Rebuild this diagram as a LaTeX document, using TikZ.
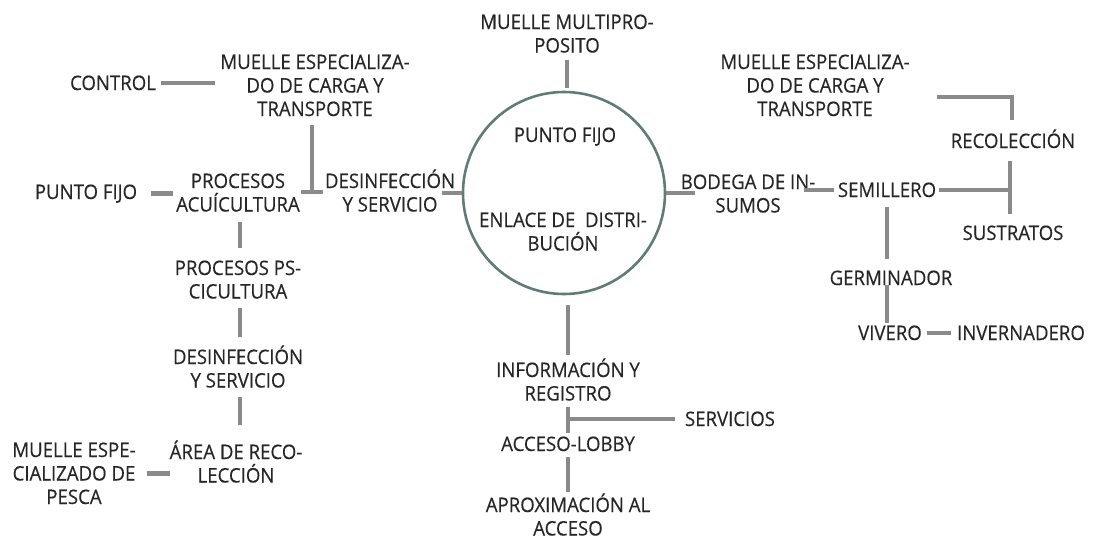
\documentclass[tikz,border=0pt]{standalone}
\usepackage{fontspec}
\setmainfont{Open Sans}[FakeStretch=0.93,FakeBold=0.35]
\usetikzlibrary{calc}
\definecolor{txt}{HTML}{262626}
\definecolor{cn}{HTML}{8A8A8A}
\definecolor{ringc}{HTML}{5E7D77}
\begin{document}
\begin{tikzpicture}[x=1pt,y=-1pt,
  lbl/.style={anchor=base,align=center,inner sep=0pt,outer sep=0pt,text=txt,font=\fontsize{20}{23.5}\selectfont},
  conn/.style={draw=cn,line width=4.5pt},
  hubring/.style={draw=ringc,line width=2.6pt,circle,minimum size=202pt,inner sep=0pt}]
\useasboundingbox[fill=white] (0,0) rectangle (1096,541);
% hub
\node[hubring] (hub) at (564,193) {};
\node[lbl] (mmp) at (567,52.5) {MUELLE MULTIPRO-\\POSITO};
\node[lbl] (pfc) at (565,142) {PUNTO FIJO};
\node[lbl] (enl) at (563,250.5) {ENLACE DE\ \ DISTRI-\\BUCIÓN};
% left
\node[lbl] (control) at (113,90) {CONTROL};
\node[lbl] (mel) at (315,116) {MUELLE ESPECIALIZA-\\DO DE CARGA Y\\TRANSPORTE};
\node[lbl] (pfl) at (86,199) {PUNTO FIJO};
\node[lbl] (pa) at (238,211.5) {PROCESOS\\ACUÍCULTURA};
\node[lbl] (des1) at (390,211.5) {DESINFECCIÓN\\Y SERVICIO};
\node[lbl] (pp) at (238,298.5) {PROCESOS PS-\\CICULTURA};
\node[lbl] (des2) at (238,387.5) {DESINFECCIÓN\\Y SERVICIO};
\node[lbl] (area) at (236,482.5) {ÁREA DE RECO-\\LECCIÓN};
\node[lbl] (mep) at (74,504) {MUELLE ESPE-\\CIALIZADO DE\\PESCA};
% bottom
\node[lbl] (info) at (568,400.5) {INFORMACIÓN Y\\REGISTRO};
\node[lbl] (serv) at (730,426) {SERVICIOS};
\node[lbl] (lobby) at (568,451) {ACCESO-LOBBY};
\node[lbl] (aprox) at (568,535.5) {APROXIMACIÓN AL\\ACCESO};
% right
\node[lbl] (bod) at (748,212.5) {BODEGA DE IN-\\SUMOS};
\node[lbl] (sem) at (887,197) {SEMILLERO};
\node[lbl] (mer) at (815,116) {MUELLE ESPECIALIZA-\\DO DE CARGA Y\\TRANSPORTE};
\node[lbl] (rec) at (1013,148) {RECOLECCIÓN};
\node[lbl] (sus) at (1013,240) {SUSTRATOS};
\node[lbl] (ger) at (891,285) {GERMINADOR};
\node[lbl] (viv) at (890,340) {VIVERO};
\node[lbl] (inv) at (1021,340) {INVERNADERO};
% junctions
\coordinate (tee) at (312,192);
\coordinate (jt) at (568,419);
\coordinate (jr) at (1010,192);
\coordinate (bk) at (1012,97);
% connectors left
\draw[conn,shorten <=5pt,shorten >=5pt] (control.east) -- (control.east -| mel.west);
\draw[conn,shorten <=9pt] (mel.south -| tee) -- (tee);
\draw[conn] ([xshift=-11pt]tee) -- ([xshift=11pt]tee);
\draw[conn,shorten <=14pt,shorten >=3pt] (pfl.east) -- (pfl.east -| pa.west);
\draw[conn] (hub.west) -- ++(-20,0);
\draw[conn,shorten <=10pt,shorten >=13pt] ([xshift=2pt]pa.south) -- ([xshift=2pt]pa.south |- pp.north);
\draw[conn,shorten <=9pt,shorten >=8pt] ([xshift=2pt]pp.south) -- ([xshift=2pt]pp.south |- des2.north);
\draw[conn,shorten <=9pt,shorten >=15pt] ([xshift=2pt]des2.south) -- ([xshift=2pt]des2.south |- area.north);
\draw[conn,shorten <=11pt] (mep.east) -- (mep.east -| area.west);
% connectors top / bottom
\draw[conn,shorten <=7pt,shorten >=3pt] (mmp.south) -- (mmp.south |- hub.north);
\draw[conn,shorten <=10pt,shorten >=3pt] (info.north |- hub.south) -- (info.north);
\draw[conn,shorten <=6pt,shorten >=4pt] (info.south) -- (lobby.north);
\draw[conn,shorten >=10pt] (jt) -- (jt -| serv.west);
\draw[conn,shorten <=6pt,shorten >=1pt] (lobby.south) -- (aprox.north);
% connectors right
\draw[conn] (hub.east) -- ++(29,0);
\draw[conn,shorten <=4pt] (sem.west) -- ++(-34,0);
\draw[conn,shorten <=3pt] (sem.east) -- (sem.east -| jr);
\draw[conn,shorten <=13pt,shorten >=12pt] (rec.south -| jr) -- (sus.north -| jr);
\draw[conn,shorten >=9pt] (bk -| mer.east) ++(27,0) -- (bk) -- (rec.north -| bk);
\draw[conn,shorten <=10pt,shorten >=12pt] (sem.south) -- (sem.south |- ger.north);
\draw[conn,shorten >=3pt] (sem.south |- ger.south) -- (sem.south |- viv.north);
\draw[conn,shorten <=5pt,shorten >=6pt] (viv.east) -- (viv.east -| inv.west);
\end{tikzpicture}
\end{document}
